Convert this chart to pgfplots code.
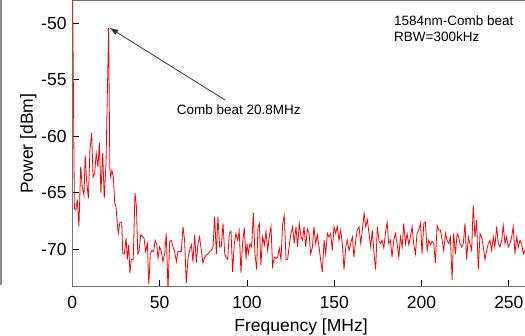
\documentclass[border=0pt]{standalone}
\usepackage{fontspec}
\setmainfont{Liberation Sans}
\usepackage{pgfplots}
\pgfplotsset{compat=1.18}
\usetikzlibrary{arrows.meta}
\begin{document}
\begin{tikzpicture}
\useasboundingbox (0pt,0pt) rectangle (525pt,336pt);
\clip (0pt,0pt) rectangle (525pt,336pt);
\draw[black!45, line width=1.5pt] (0.75pt,336pt) -- (0.75pt,51pt);
\begin{axis}[
  at={(72.3pt,49.5pt)}, anchor=south west,
  scale only axis, width=457.5pt, height=285.5pt,
  xmin=0, xmax=262, ymin=-73.29, ymax=-48.03,
  xtick={0,50,100,150,200,250},
  ytick={-70,-65,-60,-55,-50},
  xtick pos=bottom, ytick pos=left,
  tick align=inside, major tick length=6.5pt,
  tick style={black, line width=0.8pt},
  axis line style={draw=black!55, line width=1pt},
  /pgf/number format/assume math mode=true,
  tick label style={font=\fontsize{17.5}{20}\selectfont},
  yticklabel style={inner sep=0pt, xshift=-5.6pt},
  xticklabel style={inner sep=0pt, yshift=-10pt},
  xlabel={Frequency [MHz]},
  ylabel={Power [dBm]},
  label style={font=\fontsize{17.5}{20}\selectfont},
  xlabel style={at={(axis description cs:0.5,0)}, anchor=north, inner sep=0pt, yshift=-32.5pt},
  ylabel style={at={(axis description cs:-0.0779,0.5)}, anchor=south, inner sep=0pt, rotate=0},
]
\addplot[red, line width=0.8pt] table {
x y
0 -44
1.2 -66.4
2.1 -66.5
2.9 -65.6
3.8 -68.0
4.8 -62.7
5.7 -64.5
6.7 -65.2
7.4 -61.7
8.2 -63.9
9.2 -65.5
10.1 -61.2
11.1 -59.7
11.9 -63.6
12.8 -63.3
13.7 -61.5
14.7 -62.7
15.5 -60.6
16.4 -65.0
17.4 -61.5
18.3 -65.5
19.3 -62.4
20.8 -50.4
21.5 -62.9
22.0 -63.6
22.7 -63.0
23.5 -63.6
24.3 -65.9
25.0 -66.2
25.6 -67.4
26.3 -68.6
27.3 -67.6
28.3 -67.6
28.9 -70.4
29.8 -70.4
30.8 -69.0
31.5 -70.9
32.3 -69.6
33.0 -72.1
33.8 -70.9
34.9 -70.9
35.9 -65.0
36.7 -66.2
37.5 -70.4
38.2 -70.2
39.2 -68.7
40.1 -68.9
41.1 -69.0
42.0 -70.2
43.0 -69.5
43.8 -73.1
44.7 -70.4
45.6 -70.1
46.6 -70.2
47.4 -69.2
48.3 -69.5
49.1 -70.8
50.0 -69.8
51.0 -70.2
51.9 -71.1
52.9 -70.4
53.8 -68.6
54.8 -73.5
55.8 -69.3
56.7 -69.2
57.7 -69.8
58.6 -70.2
59.6 -71.1
60.5 -70.2
61.5 -70.2
62.4 -70.2
63.4 -68.0
64.3 -69.2
65.3 -73.0
66.3 -70.7
67.2 -70.1
68.2 -69.6
69.1 -71.1
70.1 -68.7
71.0 -71.2
72.0 -69.5
72.9 -68.9
73.9 -70.1
74.8 -71.2
75.8 -70.7
76.8 -70.5
77.7 -70.4
78.7 -70.2
79.6 -70.1
80.6 -69.8
81.5 -67.1
82.5 -70.4
83.4 -67.1
84.4 -69.8
85.3 -69.8
86.3 -67.7
87.3 -70.4
88.0 -70.7
89.0 -70.9
89.9 -68.6
90.9 -68.4
91.8 -72.0
92.8 -69.5
93.7 -68.6
94.7 -69.2
95.6 -68.4
96.6 -72.1
97.5 -69.5
98.5 -68.1
99.5 -70.9
100.0 -69.5
100.8 -70.4
101.7 -69.5
102.7 -69.8
103.7 -66.8
104.6 -70.4
105.6 -71.8
106.3 -68.1
107.1 -67.7
108.0 -71.4
109.0 -68.9
110.0 -69.6
110.9 -68.4
111.9 -70.1
112.8 -68.9
113.8 -68.0
114.7 -71.5
115.7 -70.7
116.6 -70.8
117.6 -70.7
118.5 -69.9
119.5 -70.9
120.5 -67.7
121.4 -67.0
122.4 -70.9
123.3 -70.9
124.3 -69.6
125.2 -68.6
126.2 -68.0
127.1 -69.5
128.1 -68.0
129.0 -69.8
130.0 -67.7
131.0 -68.9
131.9 -69.2
132.7 -68.0
133.7 -69.8
134.6 -68.2
135.6 -68.6
136.5 -70.4
137.5 -69.8
138.4 -68.0
139.4 -69.5
140.3 -68.7
141.3 -69.8
142.2 -70.9
143.2 -72.0
144.2 -69.2
145.1 -70.4
146.1 -68.6
147.0 -68.9
148.0 -68.6
148.9 -70.1
149.9 -68.0
150.8 -68.6
151.8 -68.0
152.7 -69.2
153.7 -68.3
154.7 -69.6
155.6 -71.8
156.6 -69.8
157.5 -69.2
158.5 -70.1
159.4 -69.5
160.4 -68.9
161.3 -70.7
162.3 -69.2
163.2 -68.3
164.2 -68.0
165.2 -69.5
166.1 -68.3
167.1 -66.8
168.0 -68.0
169.0 -67.4
169.9 -68.6
170.9 -69.8
171.8 -68.3
172.8 -70.4
173.7 -71.8
174.7 -68.0
175.7 -69.3
176.6 -69.5
177.4 -69.2
178.4 -69.9
179.3 -68.6
180.3 -67.6
181.2 -69.5
182.2 -69.2
183.1 -70.7
184.1 -69.2
185.0 -68.6
186.0 -69.5
187.0 -70.7
187.9 -68.9
188.9 -69.8
189.8 -67.7
190.8 -69.5
191.7 -68.6
192.7 -69.6
193.6 -68.9
194.6 -68.0
195.5 -69.5
196.5 -70.4
197.4 -68.6
198.4 -68.3
199.4 -67.7
200.3 -70.4
201.3 -67.7
202.2 -67.6
203.2 -70.1
204.1 -69.2
205.1 -69.6
206.0 -69.3
207.0 -69.5
207.9 -71.2
208.9 -67.9
209.9 -68.3
210.8 -68.3
211.8 -69.2
212.7 -70.1
213.7 -68.6
214.6 -69.2
215.6 -69.5
216.5 -68.9
217.5 -72.7
218.4 -68.6
219.4 -70.4
220.4 -68.6
221.3 -68.9
222.0 -69.5
223.0 -69.8
223.9 -69.5
224.9 -67.7
225.8 -70.9
226.8 -68.9
227.7 -69.5
228.7 -70.1
229.6 -66.1
230.6 -68.9
231.5 -67.4
232.5 -71.8
233.5 -68.6
234.4 -68.9
235.4 -69.8
236.3 -70.9
237.3 -70.1
238.2 -69.5
239.2 -69.2
240.1 -70.1
241.1 -68.9
242.0 -69.8
243.0 -68.0
244.0 -69.5
244.9 -69.8
245.9 -69.2
246.8 -67.9
247.8 -69.5
248.7 -68.9
249.7 -69.8
250.6 -69.5
251.6 -68.9
252.5 -68.0
253.5 -70.4
254.5 -68.9
255.4 -69.8
256.4 -69.2
257.3 -69.5
258.3 -70.4
259.2 -70.1
260.2 -71.2
261.2 -69.8
};
\draw[black!80, line width=0.8pt, -{Latex[length=9pt,width=6pt]}] (axis cs:87.45,-56.79) -- (axis cs:21.2,-50.39);
\node[anchor=base west, inner sep=0pt, font=\fontsize{13.5}{15}\selectfont] at (axis cs:59.8,-58.03) {Comb beat 20.8MHz};
\node[anchor=north west, inner sep=0pt, align=left, font=\fontsize{13.5}{15.7}\selectfont] at (axis cs:184.2,-49.35) {1584nm-Comb beat\\RBW=300kHz};
\end{axis}
\end{tikzpicture}
\end{document}
